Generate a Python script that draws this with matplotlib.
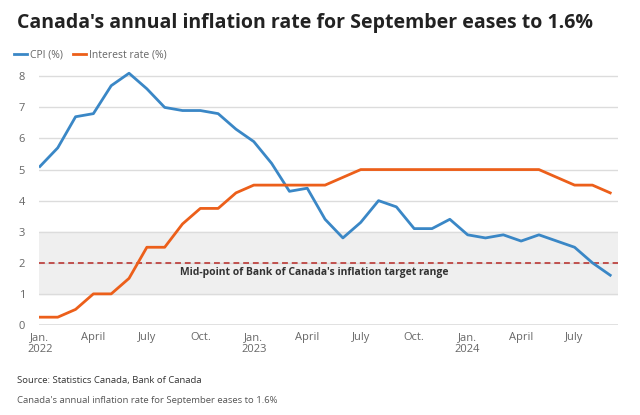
import matplotlib.pyplot as plt

plt.rcParams['font.family'] = ['Open Sans', 'DejaVu Sans']

# monthly, Jan 2022 .. Sep 2024
months = list(range(33))
cpi = [5.1, 5.7, 6.7, 6.8, 7.7, 8.1, 7.6, 7.0, 6.9, 6.9, 6.8, 6.3,
       5.9, 5.2, 4.3, 4.4, 3.4, 2.8, 3.3, 4.0, 3.8, 3.1, 3.1, 3.4,
       2.9, 2.8, 2.9, 2.7, 2.9, 2.7, 2.5, 2.0, 1.6]
rate = [0.25, 0.25, 0.5, 1.0, 1.0, 1.5, 2.5, 2.5, 3.25, 3.75, 3.75, 4.25,
        4.5, 4.5, 4.5, 4.5, 4.5, 4.75, 5.0, 5.0, 5.0, 5.0, 5.0, 5.0,
        5.0, 5.0, 5.0, 5.0, 5.0, 4.75, 4.5, 4.5, 4.25]
tick_pos = [0, 3, 6, 9, 12, 15, 18, 21, 24, 27, 30]
tick_labels = ['Jan.\n2022', 'April', 'July', 'Oct.', 'Jan.\n2023', 'April',
               'July', 'Oct.', 'Jan.\n2024', 'April', 'July']
target_low, target_mid, target_high = 1, 2, 3

blue = '#3a87c6'
orange = '#ec5f1a'

fig = plt.figure(figsize=(6.4, 4.15), dpi=100)
ax = fig.add_axes([0.061, 0.217, 0.905, 0.614])

ax.axhspan(target_low, target_high, color='#efefef', zorder=0)
for y in range(1, 9):
    ax.axhline(y, color='#dcdcdc', linewidth=1, zorder=1)
ax.axhline(0, color='#666666', linewidth=1, zorder=2)
ax.axhline(target_mid, color='#c0504d', linewidth=1.4, linestyle=(0, (3, 2)), zorder=3)

ax.plot(months, cpi, color=blue, linewidth=2, zorder=4, label='CPI (%)')
ax.plot(months, rate, color=orange, linewidth=2, zorder=4, label='Interest rate (%)')

ax.text(15.4, 1.7, "Mid-point of Bank of Canada's inflation target range",
        ha='center', va='center', fontsize=7.5, fontweight='bold', color='#333333', zorder=5)

ax.set_xlim(-0.05, 32.45)
ax.set_ylim(0, 8.2)
ax.set_xticks(tick_pos)
ax.set_xticklabels(tick_labels)
ax.set_yticks(range(0, 9))
ax.tick_params(axis='both', length=0, labelsize=8, labelcolor='#666666')
ax.tick_params(axis='x', pad=5)
ax.tick_params(axis='y', pad=10)
for s in ax.spines.values():
    s.set_visible(False)

fig.text(0.027, 0.945, "Canada's annual inflation rate for September eases to 1.6%",
         fontsize=14, fontweight='bold', color='#222222', va='center')
ax.legend(loc='lower left', bbox_to_anchor=(-0.05, 1.02), ncol=2, frameon=False,
          fontsize=7.5, handlelength=1.2, handletextpad=0.3, columnspacing=1.0,
          labelcolor='#666666', borderaxespad=0)
fig.text(0.027, 0.082, 'Source: Statistics Canada, Bank of Canada', fontsize=6.8,
         color='#333333', va='center')
fig.text(0.027, 0.035, "Canada's annual inflation rate for September eases to 1.6%",
         fontsize=6.8, color='#555555', va='center')

fig.savefig('out.png', dpi=100)
